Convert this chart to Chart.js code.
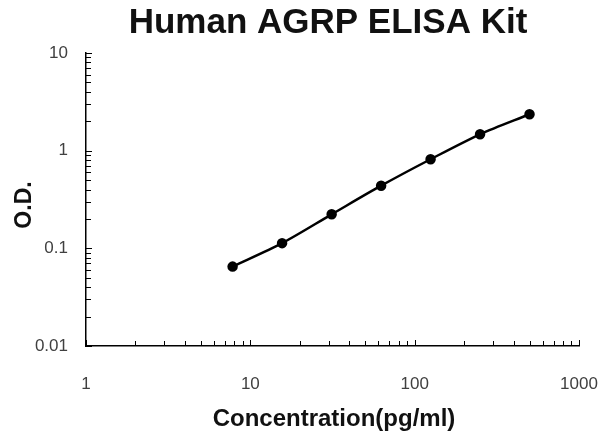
<!DOCTYPE html>
<html>
<head>
<meta charset="utf-8">
<script src="https://cdn.jsdelivr.net/npm/chart.js@4/dist/chart.umd.min.js"></script>
<style>
html,body{margin:0;padding:0;background:#fff;}
#wrap{width:603px;height:432px;position:relative;}
</style>
</head>
<body>
<div id="wrap"><canvas id="c" width="603" height="432"></canvas></div>
<script>
const chartTitle = "Human AGRP ELISA Kit";
const xTitle = "Concentration(pg/ml)";
const yTitle = "O.D.";
const concentrations = [7.8, 15.6, 31.25, 62.5, 125, 250, 500];
const odValues = [0.065, 0.113, 0.223, 0.438, 0.817, 1.47, 2.36];
const xTickLabels = [1, 10, 100, 1000];
const yTickLabels = [0.01, 0.1, 1, 10];

const points = concentrations.map((x, i) => ({x: x, y: odValues[i]}));

const decorPlugin = {
  id: 'decor',
  afterDraw(chart) {
    const ctx = chart.ctx;
    const xs = chart.scales.x, ys = chart.scales.y;
    const area = chart.chartArea;
    ctx.save();
    ctx.strokeStyle = '#000';
    ctx.lineWidth = 1;
    for (let d = 1; d < 1000; d *= 10) {
      for (let m = 1; m <= 10; m++) {
        const v = d * m;
        const px = Math.round(xs.getPixelForValue(v)) + 0.5;
        const len = (m === 1 || m === 10) ? 6 : 5;
        ctx.beginPath();
        ctx.moveTo(px, area.bottom);
        ctx.lineTo(px, area.bottom - len);
        ctx.stroke();
      }
    }
    for (let d = 0.01; d < 10; d *= 10) {
      for (let m = 1; m <= 10; m++) {
        const v = d * m;
        const py = Math.round(ys.getPixelForValue(v)) + 0.5;
        const len = (m === 1 || m === 10) ? 6 : 5;
        ctx.beginPath();
        ctx.moveTo(area.left, py);
        ctx.lineTo(area.left + len, py);
        ctx.stroke();
      }
    }
    ctx.fillStyle = '#111';
    ctx.textAlign = 'center';
    ctx.textBaseline = 'middle';
    ctx.font = 'bold 35px "Liberation Sans", Arial, sans-serif';
    ctx.fillText(chartTitle, 328, 23);
    ctx.textBaseline = 'alphabetic';
    ctx.font = 'bold 24px "Liberation Sans", Arial, sans-serif';
    ctx.fillText(xTitle, 334, 426);
    ctx.save();
    ctx.translate(31, 205);
    ctx.rotate(-Math.PI / 2);
    ctx.font = 'bold 23px "Liberation Sans", Arial, sans-serif';
    ctx.fillText(yTitle, 0, 0);
    ctx.restore();
    ctx.restore();
  }
};

new Chart(document.getElementById('c'), {
  type: 'line',
  data: {
    datasets: [{
      data: points,
      borderColor: '#000',
      backgroundColor: '#000',
      borderWidth: 2.5,
      pointRadius: 4,
      pointBackgroundColor: '#000',
      pointBorderColor: '#000',
      tension: 0.3,
      fill: false
    }]
  },
  options: {
    responsive: false,
    animation: false,
    devicePixelRatio: 1,
    layout: {padding: {top: 53, right: 24, left: 0, bottom: 0}},
    plugins: {legend: {display: false}, tooltip: {enabled: false}, title: {display: false}},
    scales: {
      x: {
        type: 'logarithmic',
        min: 1, max: 1000,
        afterFit(s) { s.height = 86; s.paddingLeft = 0; s.paddingRight = 0; },
        grid: {display: true, drawOnChartArea: false, drawTicks: false},
        border: {display: true, color: '#000', width: 1.5},
        ticks: {
          autoSkip: false, maxRotation: 0, padding: 28,
          color: '#404040',
          font: {family: '"Liberation Sans", Arial, sans-serif', size: 17},
          callback(v) { return xTickLabels.includes(v) ? String(v) : ''; }
        }
      },
      y: {
        type: 'logarithmic',
        min: 0.01, max: 10,
        afterFit(s) { s.width = 86; s.paddingTop = 0; s.paddingBottom = 0; },
        grid: {display: true, drawOnChartArea: false, drawTicks: false},
        border: {display: true, color: '#000', width: 1.5},
        ticks: {
          autoSkip: false, padding: 18,
          color: '#404040',
          font: {family: '"Liberation Sans", Arial, sans-serif', size: 17},
          callback(v) {
            const hit = yTickLabels.find(t => Math.abs(t - v) / t < 1e-6);
            return hit !== undefined ? String(hit) : '';
          }
        }
      }
    }
  },
  plugins: [decorPlugin]
});
</script>
</body>
</html>
